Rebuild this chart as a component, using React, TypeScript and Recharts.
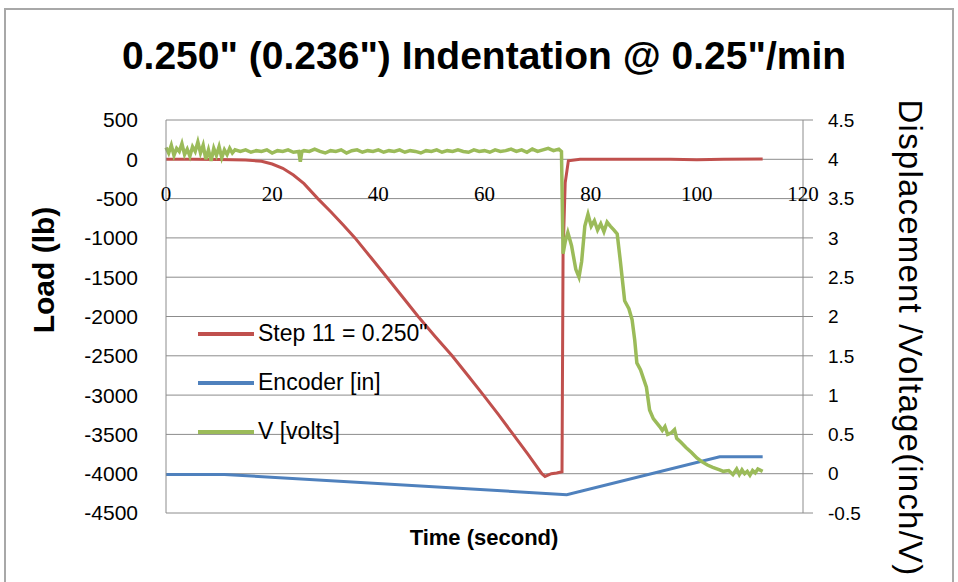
import React from "react"
import { CartesianGrid, Legend, Line, LineChart, ReferenceDot, XAxis, YAxis } from "recharts"

const timeTicks = [0, 20, 40, 60, 80, 100, 120]
const loadTicks = [-4500, -4000, -3500, -3000, -2500, -2000, -1500, -1000, -500, 0, 500]
const rightTicks = [-0.5, 0, 0.5, 1, 1.5, 2, 2.5, 3, 3.5, 4, 4.5]
const seriesNames = ['Step 11 = 0.250"', "Encoder [in]", "V [volts]"]

// Step 11 = 0.250" : [time s, load lb]
const loadSeries: [number, number][] = [
  [0, 0], [5, 2], [10, -2], [15, -10], [18, -25], [20, -60], [22, -115], [24, -200],
  [26, -310], [28.6, -500], [31, -665], [33.3, -830], [35.6, -1000], [38.6, -1250],
  [41.6, -1500], [44.5, -1745], [47.5, -2000], [50.7, -2255], [53.9, -2500], [56.8, -2745],
  [59.8, -3000], [62.6, -3245], [65.4, -3500], [68.1, -3745], [70.8, -4000], [71.4, -4035],
  [72.6, -4000], [73.6, -3990], [74.6, -3975], [74.8, -1200], [75.2, -300], [75.8, -20],
  [78, 0], [95, 0], [100, -5], [105, 0], [112.4, 5],
]

// Encoder [in] : [time s, inch]
const encoderSeries: [number, number][] = [
  [0, -0.01], [11, -0.01], [75.5, -0.267], [104.3, 0.216], [112.4, 0.216],
]

// V [volts] : [time s, volts]
const voltSeries: [number, number][] = [
  [0, 4.15], [0.5, 4.08], [1, 4.18], [1.5, 4.05], [2, 4.14], [2.5, 4.1], [3, 4.2], [3.5, 4.06],
  [4, 4.13], [4.5, 4.04], [5, 4.16], [5.5, 4.1], [6, 4.22], [6.5, 4.08], [7, 4.18], [7.5, 4.0],
  [8, 4.12], [8.5, 3.98], [9, 4.14], [9.5, 4.05], [10, 4.16], [10.5, 4.02], [11, 4.12], [11.5, 4.06],
  [12, 4.14], [12.5, 4.08], [13, 4.12], [14, 4.1], [15, 4.12], [16, 4.09], [17, 4.11], [18, 4.1],
  [19, 4.12], [20, 4.08], [21, 4.11], [22, 4.1], [23, 4.12], [24, 4.09], [25, 4.1], [25.3, 3.97],
  [25.6, 4.1], [26, 4.11], [27, 4.1], [28, 4.13], [29, 4.1], [30, 4.08], [31, 4.11], [32, 4.1],
  [33, 4.12], [34, 4.08], [35, 4.11], [36, 4.12], [37, 4.09], [38, 4.11], [39, 4.1], [40, 4.12],
  [41, 4.09], [42, 4.11], [43, 4.1], [44, 4.12], [45, 4.09], [46, 4.11], [47, 4.1], [48, 4.08],
  [49, 4.11], [50, 4.1], [51, 4.12], [52, 4.09], [53, 4.11], [54, 4.1], [55, 4.12], [56, 4.1],
  [57, 4.09], [58, 4.12], [59, 4.1], [60, 4.11], [61, 4.09], [62, 4.12], [63, 4.1], [64, 4.11],
  [65, 4.13], [66, 4.1], [67, 4.12], [68, 4.09], [69, 4.13], [70, 4.1], [71, 4.12], [72, 4.14],
  [73, 4.11], [74, 4.13], [74.5, 4.1], [74.8, 2.8], [75.2, 2.95], [75.7, 3.07], [76.4, 2.9],
  [77.2, 2.6], [77.8, 2.5], [78.3, 2.7], [78.9, 3.15], [79.5, 3.3], [80.1, 3.15], [80.7, 3.22],
  [81.3, 3.1], [81.9, 3.18], [82.5, 3.08], [83.1, 3.2], [83.7, 3.15], [84.4, 3.1], [85, 3.05],
  [85.6, 2.7], [86.4, 2.2], [87.2, 2.1], [87.8, 1.96], [88.3, 1.7], [88.7, 1.41], [89.4, 1.32],
  [90, 1.2], [90.5, 1.1], [91.1, 0.81], [91.8, 0.7], [92.4, 0.65], [93, 0.6], [93.5, 0.55],
  [94, 0.6], [94.5, 0.5], [95.2, 0.52], [95.8, 0.56], [96.2, 0.45], [97, 0.4], [98, 0.33],
  [99, 0.27], [100, 0.2], [101, 0.15], [102, 0.11], [103, 0.08], [104.3, 0.05], [105, 0.03],
  [106, 0.04], [106.8, -0.01], [107.5, 0.06], [108, -0.01], [108.5, 0.05], [109, 0.0],
  [109.5, 0.03], [110, -0.02], [110.5, 0.04], [111, 0.01], [111.5, 0.06], [112.4, 0.03],
]

const toRows = (s: [number, number][]) => s.map(([t, v]) => ({ t, v }))

const renderLegend = (props: any) => {
  const items = [...(props.payload || [])].sort(
    (a: any, b: any) => seriesNames.indexOf(a.value) - seriesNames.indexOf(b.value)
  )
  return (
    <div>
      {items.map((it: any) => (
        <div key={it.value} style={{ display: "flex", alignItems: "center", height: 49 }}>
          <div style={{ width: 56, height: 4, background: it.color, marginRight: 4 }} />
          <span style={{ fontSize: 23, color: "#000", fontFamily: "Liberation Sans" }}>{it.value}</span>
        </div>
      ))}
    </div>
  )
}

export default function App() {
  return (
    <div style={{ position: "absolute", left: 0, top: 0, width: 958, height: 582, background: "#fff", overflow: "hidden", fontFamily: "Liberation Sans" }}>
      <div style={{ position: "absolute", left: 4, top: 8, width: 946, height: 590, border: "2px solid #a8a8a8" }} />
      <div style={{ position: "absolute", left: 0, top: 34, width: 968, textAlign: "center", fontSize: 39, fontWeight: "bold", lineHeight: "44px" }}>
        0.250" (0.236") Indentation @ 0.25"/min
      </div>
      <div style={{ position: "absolute", left: 44, top: 270, transform: "translate(-50%, -50%) rotate(-90deg)", fontSize: 30, fontWeight: "bold", whiteSpace: "nowrap" }}>
        Load (lb)
      </div>
      <div style={{ position: "absolute", left: 910, top: 338, transform: "translate(-50%, -50%) rotate(90deg)", fontSize: 33, letterSpacing: 1.2, whiteSpace: "nowrap" }}>
        Displacement /Voltage(inch/V)
      </div>
      <div style={{ position: "absolute", left: 484, top: 538, transform: "translate(-50%, -50%)", fontSize: 22, fontWeight: "bold", whiteSpace: "nowrap" }}>
        Time (second)
      </div>
      <div style={{ position: "absolute", left: 0, top: 0 }}>
        <LineChart width={958} height={582} margin={{ top: 120, right: 0, left: 0, bottom: 69 }}>
          <CartesianGrid yAxisId="left" vertical={false} stroke="#8c8c8c" />
          <XAxis xAxisId={0} dataKey="t" type="number" domain={[0, 120]} ticks={timeTicks} hide allowDuplicatedCategory={false} />
          <YAxis
            yAxisId="left"
            domain={[-4500, 500]}
            ticks={loadTicks}
            interval={0}
            width={166}
            tickLine={false}
            tickSize={0}
            tickMargin={28}
            axisLine={{ stroke: "#8c8c8c" }}
            tick={{ fontSize: 21, fill: "#000", fontFamily: "Liberation Sans" }}
          />
          <YAxis
            yAxisId="right"
            orientation="right"
            domain={[-0.5, 4.5]}
            ticks={rightTicks}
            interval={0}
            width={155}
            tickSize={10}
            tickMargin={15}
            tickLine={{ stroke: "#8c8c8c" }}
            axisLine={{ stroke: "#8c8c8c" }}
            tick={{ fontSize: 19, fill: "#000", fontFamily: "Liberation Sans" }}
          />
          {timeTicks.map((t) => (
            <ReferenceDot
              key={t}
              x={t}
              y={0}
              yAxisId="left"
              r={0}
              fill="none"
              stroke="none"
              ifOverflow="visible"
              label={{ value: String(t), position: "bottom", offset: 27, fontSize: 21, fill: "#000", fontFamily: "Liberation Serif" }}
            />
          ))}
          <Legend
            layout="vertical"
            align="center"
            verticalAlign="middle"
            content={renderLegend}
            wrapperStyle={{ left: 198, top: 309, width: 300 }}
          />
          <Line
            yAxisId="left"
            data={toRows(loadSeries)}
            dataKey="v"
            name={seriesNames[0]}
            stroke="#c0504d"
            strokeWidth={3}
            dot={false}
            type="linear"
            isAnimationActive={false}
          />
          <Line
            yAxisId="right"
            data={toRows(encoderSeries)}
            dataKey="v"
            name={seriesNames[1]}
            stroke="#4f81bd"
            strokeWidth={3}
            dot={false}
            type="linear"
            isAnimationActive={false}
          />
          <Line
            yAxisId="right"
            data={toRows(voltSeries)}
            dataKey="v"
            name={seriesNames[2]}
            stroke="#9bbb59"
            strokeWidth={3.5}
            dot={false}
            type="linear"
            isAnimationActive={false}
          />
        </LineChart>
      </div>
    </div>
  )
}
